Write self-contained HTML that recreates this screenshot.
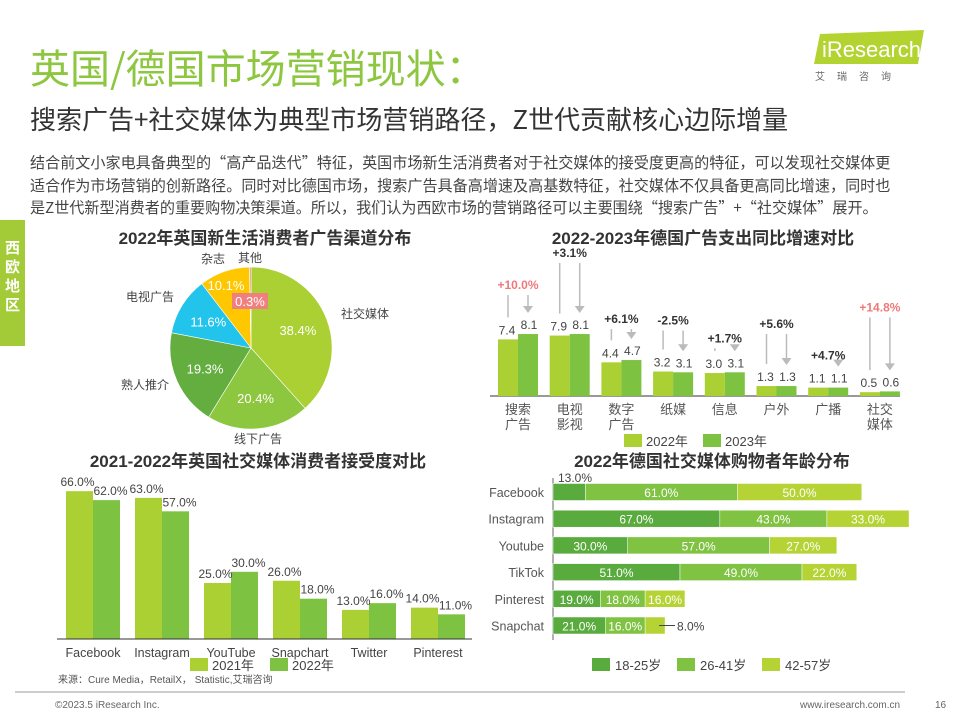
<!DOCTYPE html>
<html><head><meta charset="utf-8">
<style>
body{margin:0;width:960px;height:720px;background:#fff;font-family:"Liberation Sans","Noto Sans CJK SC",sans-serif;overflow:hidden;position:relative}
.abs{position:absolute}
svg text{font-family:"Liberation Sans","Noto Sans CJK SC",sans-serif}
</style></head><body>
<div class="abs" style="left:30px;top:38px;font-size:40px;color:#8dc63f;font-family:'Noto Sans CJK SC',sans-serif;line-height:56px">英国/德国市场营销现状：</div>
<div class="abs" style="left:30px;top:100px;font-size:26px;color:#333;font-family:'Noto Sans CJK SC',sans-serif;line-height:38px">搜索广告+社交媒体为典型市场营销路径，Z世代贡献核心边际增量</div>
<div class="abs" style="left:30px;top:151px;white-space:nowrap;font-size:15.1px;color:#444;line-height:22.5px;font-family:'Noto Sans CJK SC',sans-serif">结合前文小家电具备典型的“高产品迭代”特征，英国市场新生活消费者对于社交媒体的接受度更高的特征，可以发现社交媒体更<br>适合作为市场营销的创新路径。同时对比德国市场，搜索广告具备高增速及高基数特征，社交媒体不仅具备更高同比增速，同时也<br>是Z世代新型消费者的重要购物决策渠道。所以，我们认为西欧市场的营销路径可以主要围绕“搜索广告”+“社交媒体”展开。</div>
<div class="abs" style="left:0;top:220px;width:25px;height:108px;background:#a3cb38;color:#fff;font-weight:bold;font-size:15px;line-height:19px;text-align:center;padding-top:18px;font-family:'Noto Sans CJK SC',sans-serif">西<br>欧<br>地<br>区</div>
<div class="abs" style="left:812px;top:30px;width:112px;height:34px">
<svg width="112" height="34"><polygon points="8,4 112,0 106,34 2,34" fill="#b3d430"/><text x="10" y="27" fill="#fff" font-size="22">iResearch</text></svg></div>
<div class="abs" style="left:815px;top:68px;font-size:10px;color:#666;letter-spacing:12px;font-family:'Noto Sans CJK SC',sans-serif">艾瑞咨询</div>

<svg class="abs" style="left:0;top:0" width="960" height="720" id="svg">
<text x="265" y="244" text-anchor="middle" font-size="17" font-weight="bold" fill="#333">2022年英国新生活消费者广告渠道分布</text>
<text x="703" y="244" text-anchor="middle" font-size="17" font-weight="bold" fill="#333">2022-2023年德国广告支出同比增速对比</text>
<text x="258" y="467" text-anchor="middle" font-size="17" font-weight="bold" fill="#333">2021-2022年英国社交媒体消费者接受度对比</text>
<text x="712" y="467" text-anchor="middle" font-size="17" font-weight="bold" fill="#333">2022年德国社交媒体购物者年龄分布</text>
<g id="pie"></g><g id="deads"></g><g id="uksoc"></g><g id="age"></g>
<line x1="15" y1="692" x2="905" y2="692" stroke="#ccc" stroke-width="2"/>
<text x="55" y="708" font-size="10" fill="#666">©2023.5 iResearch Inc.</text>
<text x="800" y="708" font-size="10" fill="#666">www.iresearch.com.cn</text>
<text x="935" y="708" font-size="10" fill="#666">16</text>
<text x="58" y="683" font-size="10" fill="#555">来源：Cure Media，RetailX， Statistic,艾瑞咨询</text>
</svg>
<script>
const NS="http://www.w3.org/2000/svg";
function mk(p,t,a,txt){const e=document.createElementNS(NS,t);for(const k in a)e.setAttribute(k,a[k]);if(txt!==undefined)e.textContent=txt;p.appendChild(e);return e;}
// ---- pie data
const pieLabels=["社交媒体","线下广告","熟人推介","电视广告","杂志","其他"];
const pieValues=[38.4,20.4,19.3,11.6,10.1,0.3];
const pieColors=["#abd033","#8dc63f","#64ad3f","#22c4ec","#ffc700","#f08080"];
const pieNamePos=[[365,318],[258,443],[145,389],[150,301],[213,263],[250,262]];
// ---- germany ad spend
const adCats=[["搜索","广告"],["电视","影视"],["数字","广告"],["纸媒"],["信息"],["户外"],["广播"],["社交","媒体"]];
const ad2022=[7.4,7.9,4.4,3.2,3.0,1.3,1.1,0.5];
const ad2023=[8.1,8.1,4.7,3.1,3.1,1.3,1.1,0.6];
const adGrowth=["+10.0%","+3.1%","+6.1%","-2.5%","+1.7%","+5.6%","+4.7%","+14.8%"];
const adLift=[45,77,37,47,30,58,28,80];
// ---- uk social
const socCats=["Facebook","Instagram","YouTube","Snapchart","Twitter","Pinterest"];
const soc2021=[66,63,25,26,13,14];
const soc2022=[62,57,30,18,16,11];
// ---- age
const ageCats=["Facebook","Instagram","Youtube","TikTok","Pinterest","Snapchat"];
const age1825=[13,67,30,51,19,21];
const age2641=[61,43,57,49,18,16];
const age4257=[50,33,27,22,16,8];

// pie
(function(){const g=document.getElementById('pie');const cx=251,cy=348,r=81;let tot=pieValues.reduce((a,b)=>a+b,0),a0=0;
pieValues.forEach((v,i)=>{const a1=a0+v/tot*2*Math.PI;const p=(a)=>[cx+r*Math.sin(a),cy-r*Math.cos(a)];const [x0,y0]=p(a0),[x1,y1]=p(a1);
const s=mk(g,'path',{d:`M${cx},${cy}L${x0},${y0}A${r},${r} 0 ${a1-a0>Math.PI?1:0} 1 ${x1},${y1}Z`,fill:pieColors[i],stroke:'#fff','stroke-width':0.6});


const am=(a0+a1)/2;let lx=cx+r*0.62*Math.sin(am),ly=cy-r*0.62*Math.cos(am)+5;
if(i==5){lx=250;ly=306;mk(g,'rect',{x:232,y:293,width:36,height:16,fill:'#f08080'});}
if(i==4){lx=226;ly=290;}
const t=mk(g,'text',{x:lx,y:ly,'text-anchor':'middle','font-size':13,fill:'#fff'},v.toFixed(1)+'%');


const n=mk(g,'text',{x:pieNamePos[i][0],y:pieNamePos[i][1],'text-anchor':'middle','font-size':12,fill:'#444'},pieLabels[i]);


a0=a1;});})();

// germany ads
(function(){const g=document.getElementById('deads');const base=396,k=7.65,x0=498,gw=51.7,bw=20;
mk(g,'line',{x1:490,y1:base,x2:900,y2:base,stroke:'#333','stroke-width':1});
ad2022.forEach((v,i)=>{const gx=x0+i*gw;const h1=v*k,h2=ad2023[i]*k;
const b1=mk(g,'rect',{x:gx,y:base-h1,width:bw,height:h1,fill:'#abd033'});


const b2=mk(g,'rect',{x:gx+bw,y:base-h2,width:bw,height:h2,fill:'#7ec242'});


mk(g,'text',{x:gx+bw/2-1,y:base-h1-5,'text-anchor':'middle','font-size':12,fill:'#444'},v.toFixed(1));
mk(g,'text',{x:gx+bw*1.5+1,y:base-h2-5,'text-anchor':'middle','font-size':12,fill:'#444'},ad2023[i].toFixed(1));
const top=base-Math.max(h1,h2);const py=top-adLift[i];
const red=i==0||i==7;
const pt=mk(g,'text',{x:gx+bw,y:py,'text-anchor':'middle','font-size':12,'font-weight':'bold',fill:red?'#f07878':'#333'},adGrowth[i]);


mk(g,'line',{x1:gx+bw/2,y1:py+6,x2:gx+bw/2,y2:base-h1-22,stroke:'#bbb','stroke-width':1.5});
mk(g,'line',{x1:gx+bw*1.5,y1:py+6,x2:gx+bw*1.5,y2:base-h2-26,stroke:'#bbb','stroke-width':1.5});
mk(g,'polygon',{points:`${gx+bw*1.5-5},${base-h2-28} ${gx+bw*1.5+5},${base-h2-28} ${gx+bw*1.5},${base-h2-21}`,fill:'#bbb'});
adCats[i].forEach((c,j)=>mk(g,'text',{x:gx+bw,y:414+j*15,'text-anchor':'middle','font-size':13,fill:'#555'},c));});
mk(g,'rect',{x:624,y:434,width:18,height:13,fill:'#abd033'});mk(g,'text',{x:646,y:446,'font-size':13,fill:'#444'},'2022年');
mk(g,'rect',{x:703,y:434,width:18,height:13,fill:'#7ec242'});mk(g,'text',{x:725,y:446,'font-size':13,fill:'#444'},'2023年');})();

// uk social
(function(){const g=document.getElementById('uksoc');const base=639,k=2.24,x0=66,gw=69,bw=27;
socCats.forEach((c,i)=>{const gx=x0+i*gw;const h1=soc2021[i]*k,h2=soc2022[i]*k;
const b1=mk(g,'rect',{x:gx,y:base-h1,width:bw,height:h1,fill:'#abd033'});


const b2=mk(g,'rect',{x:gx+bw,y:base-h2,width:bw,height:h2,fill:'#7ec242'});


mk(g,'text',{x:gx+bw/2-2,y:base-h1-5,'text-anchor':'middle','font-size':12,fill:'#444'},soc2021[i].toFixed(1)+'%');
mk(g,'text',{x:gx+bw*1.5+4,y:base-h2-5,'text-anchor':'middle','font-size':12,fill:'#444'},soc2022[i].toFixed(1)+'%');
mk(g,'text',{x:gx+bw,y:657,'text-anchor':'middle','font-size':12.5,fill:'#444'},c);});
mk(g,'line',{x1:57,y1:base,x2:472,y2:base,stroke:'#333','stroke-width':1});
mk(g,'rect',{x:190,y:658,width:18,height:13,fill:'#abd033'});mk(g,'text',{x:212,y:670,'font-size':13,fill:'#444'},'2021年');
mk(g,'rect',{x:270,y:658,width:18,height:13,fill:'#7ec242'});mk(g,'text',{x:292,y:670,'font-size':13,fill:'#444'},'2022年');})();

// age
(function(){const g=document.getElementById('age');const ax=553,k=2.49,y0=492,dy=26.7,bh=17;const cols=['#5aab3e','#80c342','#b5d334'];
mk(g,'line',{x1:ax,y1:478,x2:ax,y2:640,stroke:'#666','stroke-width':1});
ageCats.forEach((c,i)=>{const cy=y0+i*dy;let x=ax;
mk(g,'text',{x:544,y:cy+5,'text-anchor':'end','font-size':12.5,fill:'#555'},c);
[age1825[i],age2641[i],age4257[i]].forEach((v,j)=>{const w=v*k;
const r=mk(g,'rect',{x:x,y:cy-bh/2,width:w,height:bh,fill:cols[j],stroke:'#fff','stroke-width':0.5});


let tx=x+w/2,ty=cy+5,fill='#fff',an='middle';
if(v<15){fill='#444';if(j==0){tx=ax+5;ty=cy-10;an='start';}else{tx=x+w+12;an='start';mk(g,'line',{x1:x+w-6,y1:cy,x2:x+w+10,y2:cy,stroke:'#444'});}}
mk(g,'text',{x:tx,y:ty,'text-anchor':an,'font-size':12,fill:fill},v.toFixed(1)+'%');x+=w;});});
const ln=['18-25岁','26-41岁','42-57岁'];const lx=[592,677,762];
ln.forEach((t,i)=>{mk(g,'rect',{x:lx[i],y:658,width:18,height:13,fill:cols[i]});mk(g,'text',{x:lx[i]+23,y:670,'font-size':13,fill:'#444'},t);});})();
</script>
</body></html>
